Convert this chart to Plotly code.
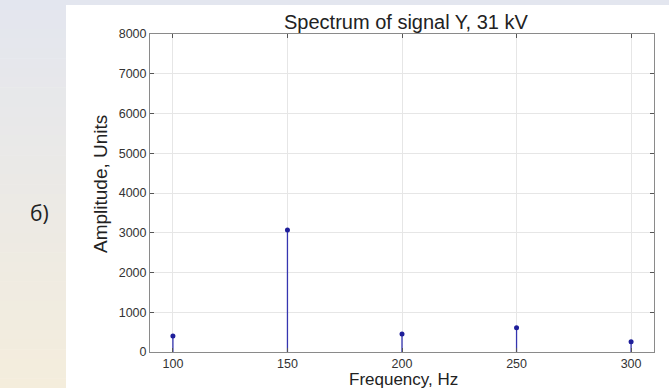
import plotly.graph_objects as go

frequencies = [100, 150, 200, 250, 300]
amplitudes = [400, 3070, 450, 610, 260]
x_ticks = [100, 150, 200, 250, 300]
y_ticks = [0, 1000, 2000, 3000, 4000, 5000, 6000, 7000, 8000]

W, H = 669, 388
L, R, T, B = 150, 15, 34, 36
pw, ph = W - L - R, H - T - B

def px_x(p):
    return (p - L) / pw

def px_y(p):
    return (H - B - p) / ph

stem_x, stem_y = [], []
for f, a in zip(frequencies, amplitudes):
    stem_x += [f, f, None]
    stem_y += [0, a, None]

fig = go.Figure()
fig.add_trace(go.Scatter(x=stem_x, y=stem_y, mode="lines",
                         line=dict(color="#3535b0", width=1.3),
                         hoverinfo="skip", showlegend=False))
fig.add_trace(go.Scatter(x=frequencies, y=amplitudes, mode="markers",
                         marker=dict(color="#1e1e9a", size=5),
                         showlegend=False))

# background gradient (left strip and top strip)
top_c = (227, 230, 239)
bot_c = (244, 237, 220)
n = 40
shapes = []
for i in range(n):
    t = (i + 0.5) / n
    c = tuple(round(top_c[k] + (bot_c[k] - top_c[k]) * t) for k in range(3))
    y0 = H * i / n
    y1 = H * (i + 1) / n + 0.5
    shapes.append(dict(type="rect", xref="paper", yref="paper",
                       x0=px_x(0), x1=px_x(66), y0=px_y(y1), y1=px_y(y0),
                       fillcolor="rgb(%d,%d,%d)" % c, line=dict(width=0),
                       layer="below"))
shapes.append(dict(type="rect", xref="paper", yref="paper",
                   x0=px_x(0), x1=px_x(W), y0=px_y(5), y1=px_y(0),
                   fillcolor="rgb(%d,%d,%d)" % top_c, line=dict(width=0),
                   layer="below"))

axis_common = dict(showline=True, linecolor="#8a8a8a", linewidth=1,
                   mirror="ticks", ticks="inside", ticklen=4,
                   tickcolor="#555555", showgrid=True, gridcolor="#e6e6e6",
                   gridwidth=1, zeroline=False,
                   tickfont=dict(family="Liberation Sans, Arial", size=12.5,
                                 color="#333333"))

fig.update_layout(
    width=W, height=H,
    margin=dict(l=L, r=R, t=T, b=B),
    paper_bgcolor="white", plot_bgcolor="white",
    shapes=shapes,
    xaxis=dict(range=[90, 310], tickvals=x_ticks,
               ticktext=[str(v) for v in x_ticks], **axis_common),
    yaxis=dict(range=[0, 8000], tickvals=y_ticks,
               ticktext=[str(v) for v in y_ticks], **axis_common),
    annotations=[
        dict(text="Spectrum of signal Y, 31 kV", xref="paper", yref="paper",
             x=px_x(406), y=px_y(22), showarrow=False,
             xanchor="center", yanchor="middle",
             font=dict(family="Liberation Sans, Arial", size=20, color="#222222")),
        dict(text="Amplitude, Units", xref="paper", yref="paper",
             x=px_x(100), y=px_y(184), showarrow=False, textangle=-90,
             xanchor="center", yanchor="middle",
             font=dict(family="Liberation Sans, Arial", size=19, color="#222222")),
        dict(text="Frequency, Hz", xref="paper", yref="paper",
             x=px_x(403), y=px_y(388), showarrow=False,
             xanchor="center", yanchor="bottom", yshift=-3,
             font=dict(family="Liberation Sans, Arial", size=17, color="#222222")),
        dict(text="б)", xref="paper", yref="paper",
             x=px_x(39), y=px_y(213), showarrow=False,
             xanchor="center", yanchor="middle",
             font=dict(family="Open Sans, Noto Sans", size=21, color="#222222")),
    ],
)

fig.write_html("out.html")
